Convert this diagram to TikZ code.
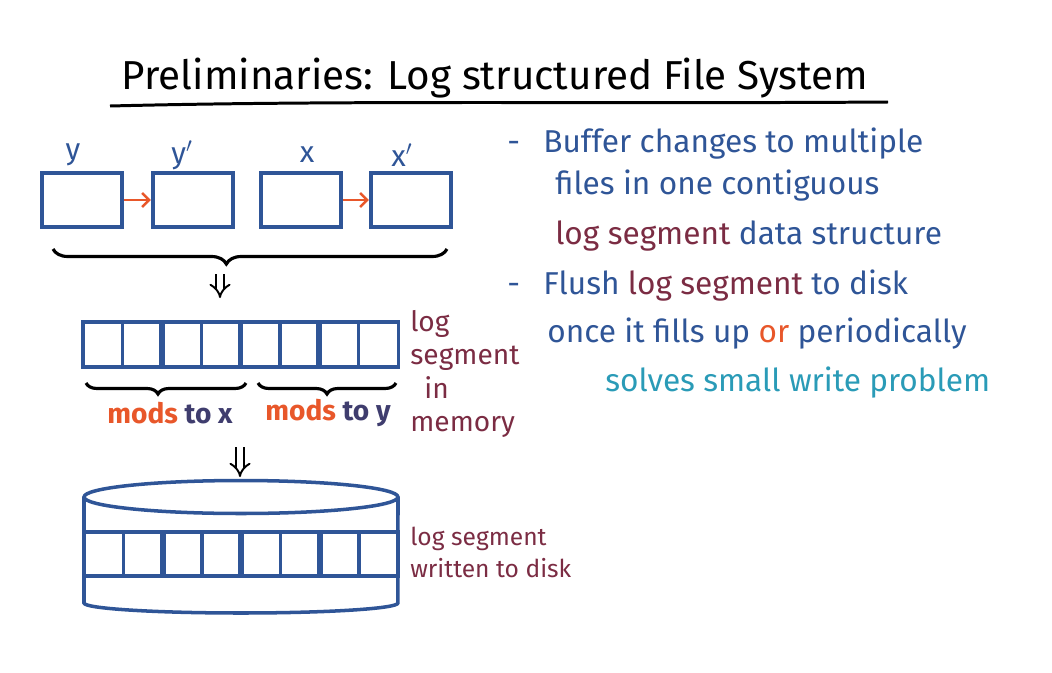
\documentclass[tikz,border=0pt]{standalone}
\usepackage{fontspec}
\setmainfont{Fira Sans}
\usetikzlibrary{arrows.meta,decorations.pathreplacing,positioning}
\definecolor{penblue}{HTML}{2F5597}
\definecolor{penorange}{HTML}{E8572A}
\definecolor{penmaroon}{HTML}{7B2C43}
\definecolor{penteal}{HTML}{2A9BB7}
\definecolor{pennavy}{HTML}{3F3D6E}
\tikzset{
  file box/.style={draw=penblue,line width=2.3pt,minimum width=1.6cm,minimum height=1.08cm,inner sep=0pt},
  file label/.style={text=penblue,font=\fontsize{17}{18}\selectfont},
  seg cell/.style={draw=penblue,line width=1.9pt,minimum width=0.788cm,minimum height=0.9cm,inner sep=0pt,outer sep=0pt},
  disk cell/.style={seg cell,minimum height=0.88cm},
  pair divider/.style={penblue,line width=3.3pt},
  disk line/.style={penblue,line width=2pt},
  link arrow/.style={penorange,line width=1.5pt,-{Straight Barb[length=4pt,width=8pt]}},
  group brace/.style={decorate,decoration={brace,mirror,amplitude=#1},line width=1.8pt,black},
  group brace/.default=8pt,
  flush arrow/.style={double,double distance=3pt,line width=1.1pt,-{Implies},black},
  side label/.style={text=penmaroon,font=\fontsize{16}{19}\selectfont,align=left,inner sep=0pt},
  mods label/.style={font=\fontsize{16}{18}\selectfont\bfseries},
  note line/.style={text=penblue,font=\fontsize{18}{20}\selectfont,anchor=base west,inner sep=0pt},
}

\begin{document}
\begin{tikzpicture}[x=0.02cm,y=-0.02cm]
\useasboundingbox (0,0) rectangle (1052,673);
% title
\node[font=\fontsize{23}{26}\selectfont] (title) at (495,78) {Preliminaries: Log structured File System};
\draw[line width=1.7pt] (110,106) .. controls (350,100) and (600,104) .. (888,102);
% file versions
\node[file box] (ybox) at (82,200) {};
\node[file box] (ynew) at (193,200) {};
\node[file box] (xbox) at (301,200) {};
\node[file box] (xnew) at (411,200) {};
\node[file label] at (73,155) {y};
\node[file label] at (182,155) {y$'$};
\node[file label] at (307,155) {x};
\node[file label] at (402,155) {x$'$};
\draw[link arrow] (ybox) -- (ynew);
\draw[link arrow] (xbox) -- (xnew);
\draw[group brace=0.3cm,decoration={aspect=0.44}] (53,249) -- (447,249);
\coordinate (bufflow) at (220,274);
\coordinate (bufin) at (220,298);
\draw[flush arrow] (bufflow) -- (bufin);
% log segment in memory
\foreach \i in {1,...,8}
  \node[seg cell] (m\i) at ({83+39.4*(\i-0.5)},344.5) {};
\foreach \i in {2,4,6}
  \draw[pair divider] (m\i.north east) -- (m\i.south east);
\draw[group brace=0.22cm,decoration={aspect=0.45}] (86,383) -- (246,383);
\draw[group brace=0.22cm,decoration={aspect=0.5}] (258,383) -- (396,383);
\node[mods label] (modsx) at (170,413) {\textcolor{penorange}{mods} \textcolor{pennavy}{to x}};
\node[mods label] (modsy) at (328,413) {\textcolor{penorange}{mods} \textcolor{pennavy}{to y}};
\node[side label,anchor=north west] (memlabel) at (410,310) {log\\segment\\\hspace{8pt}in\\memory};
\coordinate (memout) at (240,447);
\coordinate (diskin) at (240,477);
\draw[flush arrow] (memout) -- (diskin);
% disk
\draw[disk line] (241,497) ellipse [x radius=3.14cm,y radius=0.33cm];
\draw[disk line] (84,497) -- (84,603) arc[start angle=180,end angle=360,x radius=3.14cm,y radius=0.2cm] -- (398,497);
\foreach \i in {1,...,8}
  \node[disk cell] (d\i) at ({84+39.3*(\i-0.5)},554) {};
\foreach \i in {2,4,6}
  \draw[pair divider] (d\i.north east) -- (d\i.south east);
\node[side label,anchor=north west,font=\fontsize{14}{18}\selectfont] (disklabel) at (410,527) {log segment\\written to disk};
% notes
\node[note line] (dashone) at (507,152) {-};
\node[note line] (noteone) at (543,152) {Buffer changes to multiple};
\node[note line] (notetwo) at (555,194) {files in one contiguous};
\node[note line] (notethree) at (555,244) {\textcolor{penmaroon}{log segment} data structure};
\node[note line] (dashtwo) at (507,294) {-};
\node[note line] (notefour) at (543,294) {Flush \textcolor{penmaroon}{log segment} to disk};
\node[note line] (notefive) at (547,342) {once it fills up \textcolor{penorange}{or} periodically};
\node[note line,text=penteal] (notesix) at (605,391) {solves small write problem};
\end{tikzpicture}
\end{document}
